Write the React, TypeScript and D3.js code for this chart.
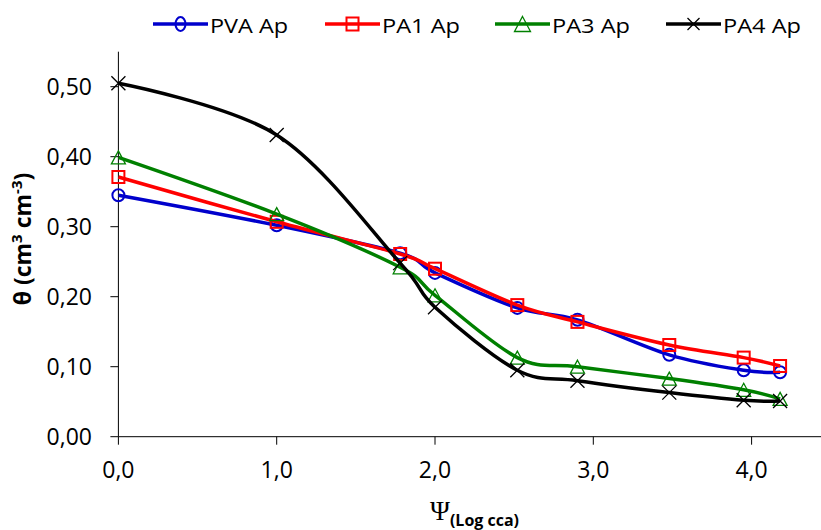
import React from "react";
import * as d3 from "d3";

const xValues = [0, 1.0, 1.78, 2.0, 2.52, 2.9, 3.48, 3.95, 4.18];
const pvaAp = [0.345, 0.302, 0.262, 0.234, 0.184, 0.167, 0.117, 0.095, 0.092];
const pa1Ap = [0.371, 0.307, 0.261, 0.240, 0.188, 0.164, 0.131, 0.113, 0.101];
const pa3Ap = [0.399, 0.318, 0.242, 0.202, 0.113, 0.100, 0.083, 0.067, 0.054];
const pa4Ap = [0.505, 0.431, 0.248, 0.185, 0.095, 0.080, 0.063, 0.052, 0.051];
const seriesNames = ["PVA Ap", "PA1 Ap", "PA3 Ap", "PA4 Ap"];
const xTicks = [0, 1, 2, 3, 4];
const yTicks = [0, 0.1, 0.2, 0.3, 0.4, 0.5];

const W = 821;
const H = 530;
const X0 = 118.4;
const PXU = 158.3;

const colors = ["#0000CC", "#FF0000", "#008000", "#000000"];
const markers = ["circle", "square", "triangle", "x"];

function Marker({ type, cx, cy, color, legend }: any) {
  if (type === "circle") {
    return legend ? (
      <ellipse cx={cx} cy={cy} rx={5} ry={7} fill="none" stroke={color} strokeWidth={2} />
    ) : (
      <circle cx={cx} cy={cy} r={6} fill="none" stroke={color} strokeWidth={2} />
    );
  }
  if (type === "square") {
    const w = 12;
    const h = legend ? 13 : 12;
    return <rect x={cx - w / 2} y={cy - h / 2} width={w} height={h} fill="none" stroke={color} strokeWidth={2} />;
  }
  if (type === "triangle") {
    const s = legend ? 8 : 7;
    const h = legend ? 15 : 13;
    return (
      <path
        d={`M${cx},${cy - h / 2}L${cx + s},${cy + h / 2}L${cx - s},${cy + h / 2}Z`}
        fill="none"
        stroke={color}
        strokeWidth={1.3}
      />
    );
  }
  const s = legend ? 6 : 7;
  return (
    <path
      d={`M${cx - s},${cy - s}L${cx + s},${cy + s}M${cx - s},${cy + s}L${cx + s},${cy - s}`}
      fill="none"
      stroke={color}
      strokeWidth={1.3}
    />
  );
}

export default function App() {
  const x = d3.scaleLinear().domain([0, 4.5]).range([X0, X0 + 4.5 * PXU]);
  const y = d3.scaleLinear().domain([0, 0.55]).range([436.7, 51.7]);
  const series = [pvaAp, pa1Ap, pa3Ap, pa4Ap];
  const line = d3
    .line<number>()
    .x((_, i) => x(xValues[i]))
    .y((d) => y(d))
    .curve(d3.curveCardinal.tension(0));
  const fmtX = (v: number) => d3.format(".1f")(v).replace(".", ",");
  const fmtY = (v: number) => d3.format(".2f")(v).replace(".", ",");
  const font = "'Open Sans', sans-serif";
  const legendStarts = [153, 325, 495, 666];
  const legendY = 24;

  return (
    <svg width={W} height={H} style={{ position: "absolute", left: 0, top: 0, background: "#fff" }}>
      <rect x={0} y={0} width={W} height={H} fill="#fff" />
      {/* axes */}
      <line x1={x(0)} x2={W} y1={y(0)} y2={y(0)} stroke="#000" strokeWidth={1} />
      <line x1={x(0)} x2={x(0)} y1={y(0)} y2={y(0.55)} stroke="#000" strokeWidth={1} />
      {yTicks.map((t) => (
        <g key={"y" + t}>
          <line x1={x(0) - 8} x2={x(0)} y1={y(t)} y2={y(t)} stroke="#000" strokeWidth={1} />
          <text x={92} y={y(t)} dy="0.36em" textAnchor="end" fontFamily={font} fontSize={23} fill="#000">
            {fmtY(t)}
          </text>
        </g>
      ))}
      {xTicks.map((t) => (
        <g key={"x" + t}>
          <line x1={x(t)} x2={x(t)} y1={y(0)} y2={y(0) + 8} stroke="#000" strokeWidth={1} />
          <text x={x(t)} y={478} textAnchor="middle" fontFamily={font} fontSize={23} fill="#000">
            {fmtX(t)}
          </text>
        </g>
      ))}
      {/* series */}
      {series.map((s, si) => (
        <g key={"s" + si}>
          <path d={line(s) || ""} fill="none" stroke={colors[si]} strokeWidth={3.5} strokeLinejoin="round" />
          {s.map((v, i) => (
            <Marker key={i} type={markers[si]} cx={x(xValues[i])} cy={y(v)} color={colors[si]} />
          ))}
        </g>
      ))}
      {/* legend */}
      {seriesNames.map((n, i) => {
        const sx = legendStarts[i];
        return (
          <g key={"l" + i}>
            <line x1={sx} x2={sx + 55} y1={legendY} y2={legendY} stroke={colors[i]} strokeWidth={3.5} />
            <Marker type={markers[i]} cx={sx + 27.5} cy={legendY} color={colors[i]} legend />
            <text
              x={sx + 57}
              y={32.5}
              fontFamily={font}
              fontSize={20}
              textLength={78}
              lengthAdjust="spacingAndGlyphs"
              fill="#000"
            >
              {n}
            </text>
          </g>
        );
      })}
      {/* y label */}
      <text
        transform="translate(31,239) rotate(-90)"
        textAnchor="middle"
        fontFamily={font}
        fontWeight="bold"
        fontSize={23}
        fill="#000"
      >
        θ (cm<tspan fontSize={15} dy={-9}>3</tspan>
        <tspan dy={9}> cm</tspan>
        <tspan fontSize={15} dy={-9}>-3</tspan>
        <tspan dy={9}>)</tspan>
      </text>
      {/* x label */}
      <text x={430} y={520} fontFamily="'Liberation Serif', serif" fontSize={27} fill="#000">
        Ψ
        <tspan fontFamily={font} fontWeight="bold" fontSize={16} dy={6}>
          (Log cca)
        </tspan>
      </text>
    </svg>
  );
}
